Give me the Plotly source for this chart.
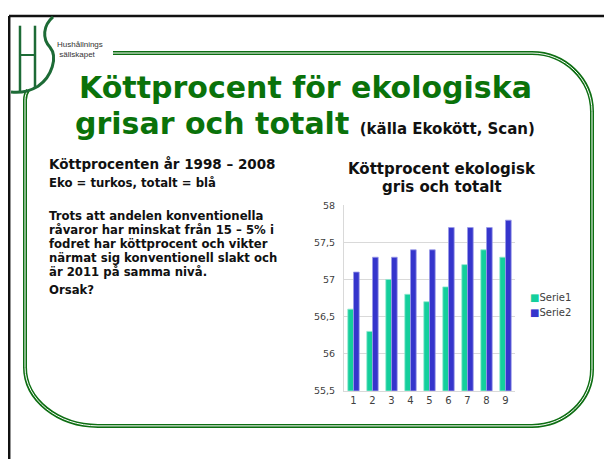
import plotly.graph_objects as go

# ---------------- data ----------------
categories = ["1", "2", "3", "4", "5", "6", "7", "8", "9"]
serie1 = [56.6, 56.3, 57.0, 56.8, 56.7, 56.9, 57.2, 57.4, 57.3]   # Eko (turkos)
serie2 = [57.1, 57.3, 57.3, 57.4, 57.4, 57.7, 57.7, 57.7, 57.8]   # Totalt (blå)
series_names = ["Serie1", "Serie2"]
y_tick_vals = [55.5, 56, 56.5, 57, 57.5, 58]
y_tick_text = ["55,5", "56", "56,5", "57", "57,5", "58"]

W, H = 612, 459
OFF = 8  # page body margin offset
def px(x):
    return (x - OFF) / W
def py(y):
    return 1 - (y - OFF) / H

GREEN_T = "#0a720a"
GREEN_F = "#0d6e12"
LOGO = "#1d6b36"
C1 = "#14cf9c"
C2 = "#3535cc"

fig = go.Figure()
fig.add_trace(go.Bar(x=categories, y=serie1, name=series_names[0],
                     marker=dict(color=C1, line=dict(color="#8fe8cf", width=0.8))))
fig.add_trace(go.Bar(x=categories, y=serie2, name=series_names[1],
                     marker=dict(color=C2, line=dict(color="#9a9ae8", width=0.8))))

def P(points_cmds):
    out = []
    for cmd, pts in points_cmds:
        out.append(cmd + " " + " ".join(f"{px(x):.5f},{py(y):.5f}" for x, y in pts))
    return " ".join(out)

k = 0.55
frame = P([
    ("M", [(113, 48)]),
    ("L", [(532, 48)]),
    ("C", [(532 + k * 60, 48), (592, 108 - k * 60), (592, 108)]),
    ("L", [(592, 372)]),
    ("C", [(592, 372 + k * 58), (532 + k * 60, 430), (532, 430)]),
    ("L", [(98, 430)]),
    ("C", [(98 - k * 73, 430), (25, 370 + k * 60), (25, 370)]),
    ("L", [(25, 96)]),
    ("C", [(25, 92), (26, 89), (28, 86)]),
])

shapes = [
    # slide black border
    dict(type="line", xref="paper", yref="paper", x0=px(9), x1=1.0, y0=py(10), y1=py(10),
         line=dict(color="#111111", width=2.5)),
    dict(type="line", xref="paper", yref="paper", x0=px(9.2), x1=px(9.2), y0=py(10), y1=0,
         line=dict(color="#111111", width=2.5)),
    # green frame (double line)
    dict(type="path", xref="paper", yref="paper", path=frame,
         line=dict(color=GREEN_F, width=4)),
    dict(type="path", xref="paper", yref="paper", path=frame,
         line=dict(color="white", width=1)),
    # logo H
    dict(type="line", xref="paper", yref="paper", x0=px(20), x1=px(20), y0=py(20), y1=py(87),
         line=dict(color=LOGO, width=2.5)),
    dict(type="line", xref="paper", yref="paper", x0=px(35), x1=px(35), y0=py(20), y1=py(84),
         line=dict(color=LOGO, width=2.5)),
    dict(type="line", xref="paper", yref="paper", x0=px(20), x1=px(35), y0=py(50), y1=py(50),
         line=dict(color=LOGO, width=2)),
    # logo S
    dict(type="path", xref="paper", yref="paper",
         path=P([("M", [(53, 11)]), ("C", [(43, 20), (42, 33), (50, 42)]),
                 ("C", [(58, 52), (52, 72), (38, 82)]), ("C", [(30, 87), (20, 89), (11, 88)])]),
         line=dict(color=LOGO, width=3)),
]

ann = []
def T(x, y, text, size, color="#000000", bold=True, anchor="left",
      family="DejaVu Sans, Verdana, sans-serif", align="left"):
    ann.append(dict(xref="paper", yref="paper", x=px(x), y=py(y), text=(f"<b>{text}</b>" if bold else text),
                    showarrow=False, xanchor=anchor, yanchor="middle", align=align,
                    font=dict(size=size, color=color, family=family)))

T(55, 44, "Hushållnings<br> sällskapet", 8, "#333333", False, family="Liberation Sans, Arial, sans-serif")
T(305, 83, "Köttprocent för ekologiska", 30, GREEN_T, anchor="center")
T(73, 120, "grisar och totalt <span style='font-size:15px;color:#111111'>(källa Ekokött, Scan)</span>",
  30, GREEN_T)

T(47, 162, "Köttprocenten år 1998 – 2008", 13.5, "#111111")
T(47, 181, "Eko = turkos, totalt = blå", 11.7, "#111111")
para = ["Trots att andelen konventionella", "råvaror har minskat från 15 – 5% i",
        "fodret har köttprocent och vikter", "närmat sig konventionell slakt och",
        "är 2011 på samma nivå."]
for i, line in enumerate(para):
    T(47, 215 + i * 14.3, line, 11.7, "#111111")
T(47, 291, "Orsak?", 11.7, "#111111")

# chart title
T(442, 167, "Köttprocent ekologisk", 15, "#111111", anchor="center")
T(442, 185, "gris och totalt", 15, "#111111", anchor="center")

# legend
for i, (nm, col) in enumerate(zip(series_names, [C1, C2])):
    ann.append(dict(xref="paper", yref="paper", x=px(528), y=py(298 + i * 15.5),
                    text=f"<span style='color:{col}'>■</span>{nm}", showarrow=False,
                    xanchor="left", yanchor="middle",
                    font=dict(size=10, color="#404040", family="DejaVu Sans, Verdana, sans-serif")))

fig.update_layout(
    width=W, height=H, margin=dict(l=0, r=0, t=0, b=0),
    paper_bgcolor="white", plot_bgcolor="white",
    barmode="group", bargap=0.4, bargroupgap=0, showlegend=False,
    shapes=shapes, annotations=ann,
    xaxis=dict(domain=[px(344), px(515)], type="category", showgrid=False,
               showline=True, linecolor="#d9d9d9", linewidth=1, ticks="",
               tickfont=dict(size=10, color="#404040", family="DejaVu Sans, Verdana, sans-serif")),
    yaxis=dict(domain=[py(394), py(204)], range=[55.5, 58], tickvals=y_tick_vals, ticktext=y_tick_text,
               showgrid=True, gridcolor="#d9d9d9", showline=True, linecolor="#d9d9d9", zeroline=False,
               ticks="", ticklabelstandoff=6,
               tickfont=dict(size=9.5, color="#404040", family="DejaVu Sans, Verdana, sans-serif")),
)

fig.write_html("out.html")
